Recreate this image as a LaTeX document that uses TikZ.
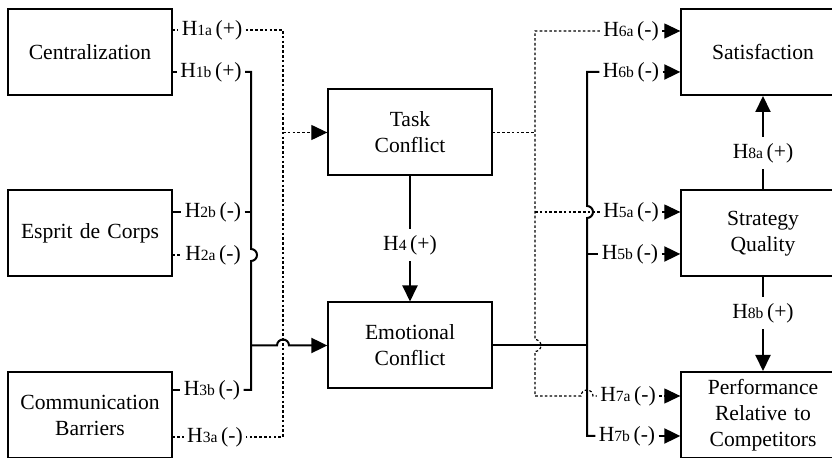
\documentclass[tikz,border=0pt]{standalone}
\usepackage{fontspec}
\setmainfont{LiberationSerif}[Extension=.ttf, UprightFont=*-Regular, BoldFont=*-Bold, ItalicFont=*-Italic]
\usetikzlibrary{arrows.meta,calc}

\tikzstyle{construct} = [rectangle, minimum width=79pt, minimum height=43pt, text centered, draw=black, line width=1pt, fill=white, text width=75pt, font=\rmfamily\fontsize{10.8}{13}\selectfont]
\tikzstyle{hyp} = [inner sep=1.5pt, font=\rmfamily\fontsize{10.8}{12}\selectfont]
\tikzstyle{solidline} = [line width=1pt]
\tikzstyle{dotline} = [line width=0.6pt, dash pattern=on 1.3pt off 1.1pt]
\tikzstyle{arrow} = [-{Triangle[length=8pt,width=7.5pt]}]

\newcommand{\hypo}[2]{H{\fontsize{7.8}{8}\selectfont #1}\,(#2)}

\begin{document}
\begin{tikzpicture}[x=0.5pt, y=-0.5pt, node distance=90.75pt]
    \useasboundingbox (0,0) rectangle (832,458);

    % Nodes
    \node (cent) [construct] at (90,52) {Centralization};
    \node (esprit) [construct, below of=cent] {Esprit de Corps};
    \node (comm) [construct, below of=esprit] {Communication\\Barriers};

    \node (task) [construct] at (410,132.5) {Task\\Conflict};
    \node (emo) [construct, below of=task, node distance=106.5pt] {Emotional\\Conflict};

    \node (sat) [construct] at (763,52) {Satisfaction};
    \node (strat) [construct, below of=sat] {Strategy\\Quality};
    \node (perf) [construct, below of=strat] {Performance\\Relative to\\Competitors};

    \node (h1a) [hyp] at (212,30) {\hypo{1a}{+}};
    \node (h1b) [hyp] at (211,72) {\hypo{1b}{+}};
    \node (h2b) [hyp] at (213,212) {\hypo{2b}{-}};
    \node (h2a) [hyp] at (213,255) {\hypo{2a}{-}};
    \node (h3b) [hyp] at (212,390) {\hypo{3b}{-}};
    \node (h3a) [hyp] at (215,437) {\hypo{3a}{-}};
    \node (h4) [hyp, inner sep=3pt] at (410,245) {\hypo{4}{+}};

    \node (h6a) [hyp] at (631,31) {\hypo{6a}{-}};
    \node (h6b) [hyp] at (631,72) {\hypo{6b}{-}};
    \node (h5a) [hyp] at (631,212) {\hypo{5a}{-}};
    \node (h5b) [hyp] at (630,254) {\hypo{5b}{-}};
    \node (h7a) [hyp] at (628,396) {\hypo{7a}{-}};
    \node (h7b) [hyp] at (627,436) {\hypo{7b}{-}};
    \node (h8a) [hyp, inner sep=3pt] at (763,153) {\hypo{8a}{+}};
    \node (h8b) [hyp, inner sep=3pt] at (763,313) {\hypo{8b}{+}};

    \coordinate (solidL) at (251,0);
    \coordinate (dotL) at (283,0);
    \coordinate (dotR) at (535,0);
    \coordinate (solidR) at (587,0);

    % Left side
    \draw [dotline] (cent.east |- h1a) -- (h1a);
    \draw [solidline] (cent.east |- h1b) -- (h1b);
    \draw [solidline] (esprit.east |- h2b) -- (h2b);
    \draw [dotline] (esprit.east |- h2a) -- (h2a);
    \draw [solidline] (comm.east |- h3b) -- (h3b);
    \draw [dotline] (comm.east |- h3a) -- (h3a);

    \draw [solidline] (h1b) -- (solidL |- h1b) -- ($(solidL |- h2a)+(0,-6)$) arc (90:-90:3pt) -- (solidL |- h3b) -- (h3b);
    \draw [solidline] (h2b) -- (solidL |- h2b);
    \draw [dotline] (h1a) -- (dotL |- h1a) -- (dotL |- h3a) -- (h3a);

    \draw [dotline, arrow] (dotL |- task) -- (task.west);
    \draw [solidline, arrow] (solidL |- emo) -- ($(dotL |- emo)+(-6,0)$) arc (180:0:3pt) -- (emo.west);

    % Middle
    \draw [solidline] (task) -- (h4);
    \draw [solidline, arrow] (h4) -- (emo);

    % Right side
    \draw [dotline] (task.east) -- (dotR |- task);
    \draw [dotline] (h6a) -- (dotR |- h6a) -- ($(dotR |- emo)+(0,-6)$) arc (90:-90:3pt) -- (dotR |- h7a) -- ($(solidR |- h7a)+(-6,0)$) arc (180:0:3pt) -- (h7a);
    \draw [dotline] (dotR |- h5a) -- (h5a);

    \draw [solidline] (emo.east) -- (solidR |- emo);
    \draw [solidline] (h6b) -- (solidR |- h6b) -- ($(solidR |- h5a)+(0,-6)$) arc (90:-90:3pt) -- (solidR |- h7b) -- (h7b);
    \draw [solidline] (solidR |- h5b) -- (h5b);

    \draw [dotline, arrow] (h6a) -- (sat.west |- h6a);
    \draw [solidline, arrow] (h6b) -- (sat.west |- h6b);
    \draw [dotline, arrow] (h5a) -- (strat.west |- h5a);
    \draw [solidline, arrow] (h5b) -- (strat.west |- h5b);
    \draw [dotline, arrow] (h7a) -- (perf.west |- h7a);
    \draw [solidline, arrow] (h7b) -- (perf.west |- h7b);

    \draw [solidline] (strat) -- (h8a);
    \draw [solidline, arrow] (h8a) -- (sat);
    \draw [solidline] (strat) -- (h8b);
    \draw [solidline, arrow] (h8b) -- (perf);

\end{tikzpicture}
\end{document}
